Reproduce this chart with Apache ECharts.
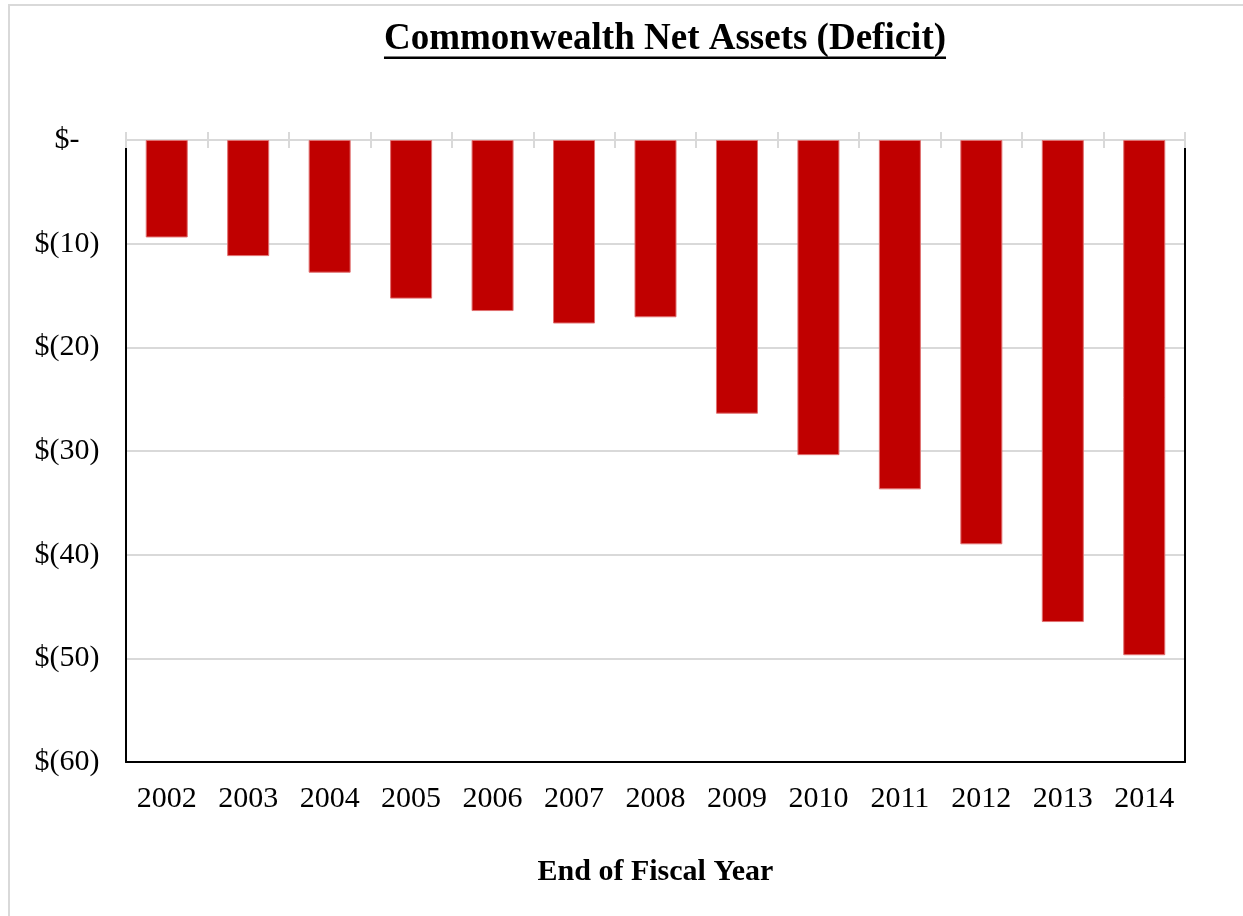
<!DOCTYPE html>
<html>
<head>
<meta charset="utf-8">
<script src="https://cdn.jsdelivr.net/npm/echarts@6/dist/echarts.min.js"></script>
<style>
  html, body { margin: 0; padding: 0; background: #fff; }
  #chart { width: 1243px; height: 916px; }
</style>
</head>
<body>
<div id="chart"></div>
<script>
const titleText = 'Commonwealth Net Assets (Deficit)';
const axisTitle = 'End of Fiscal Year';
const years = ['2002','2003','2004','2005','2006','2007','2008','2009','2010','2011','2012','2013','2014'];
const netAssets = [-9.4, -11.2, -12.8, -15.3, -16.5, -17.7, -17.1, -26.4, -30.4, -33.7, -39.0, -46.5, -49.7];
const yMin = -60, yMax = 0, yStep = 10;

const serif = '"Liberation Serif", "Times New Roman", serif';

function fmtY(v) {
  if (v === 0) return '$-';
  return '$(' + Math.abs(v) + ')';
}

const titleFont = 'bold 37px ' + serif;
const mc = document.createElement('canvas').getContext('2d');
mc.font = titleFont;
const titleW = mc.measureText(titleText).width;
const titleCX = 665;

const chart = echarts.init(document.getElementById('chart'), null, { renderer: 'canvas' });
const gridLine = '#d9d9d9';

chart.setOption({
  animation: false,
  backgroundColor: '#ffffff',
  grid: { left: 126, right: 58, top: 140, bottom: 154, containLabel: false },
  xAxis: [
    {
      type: 'category', data: years, position: 'top', boundaryGap: true,
      axisLine: { show: true, onZero: false, lineStyle: { color: gridLine, width: 2 } },
      axisTick: { show: true, inside: false, length: 8, lineStyle: { color: gridLine, width: 2 } },
      axisLabel: { show: false }, splitLine: { show: false }
    },
    {
      type: 'category', data: years, position: 'top', boundaryGap: true,
      axisLine: { show: false, onZero: false },
      axisTick: { show: true, inside: true, length: 8, lineStyle: { color: gridLine, width: 2 } },
      axisLabel: { show: false }, splitLine: { show: false }
    },
    {
      type: 'category', data: years, position: 'bottom', boundaryGap: true,
      axisLine: { show: true, onZero: false, lineStyle: { color: '#000', width: 2 } },
      axisTick: { show: false },
      axisLabel: { show: true, color: '#000', fontSize: 30, fontFamily: serif, margin: 22, interval: 0 },
      splitLine: { show: false },
      name: axisTitle, nameLocation: 'middle', nameGap: 95,
      nameTextStyle: { color: '#000', fontSize: 30, fontWeight: 'bold', fontFamily: serif }
    }
  ],
  yAxis: [
    {
      type: 'value', position: 'left', min: yMin, max: yMax, interval: yStep,
      axisLine: { show: true, onZero: false, lineStyle: { color: '#000', width: 2 } },
      axisTick: { show: false },
      axisLabel: { formatter: fmtY, color: '#000', fontSize: 30, fontFamily: serif, align: 'center', margin: 59 },
      splitLine: { show: true, lineStyle: { color: gridLine, width: 2 } }
    },
    {
      type: 'value', position: 'right', min: yMin, max: yMax, interval: yStep,
      axisLine: { show: true, onZero: false, lineStyle: { color: '#000', width: 2 } },
      axisTick: { show: false }, axisLabel: { show: false }, splitLine: { show: false }
    }
  ],
  series: [
    {
      type: 'bar', data: netAssets, xAxisIndex: 2, yAxisIndex: 0,
      barWidth: 42,
      itemStyle: { color: '#C00000', borderColor: '#e07070', borderWidth: 1 },
      z: 3
    }
  ],
  graphic: [
    {
      type: 'polyline', silent: true,
      shape: { points: [[9, 916], [9, 5], [1243, 5]] },
      style: { stroke: '#d9d9d9', lineWidth: 2, fill: null }
    },
    {
      type: 'text', silent: true, x: titleCX, y: 39,
      style: { text: titleText, font: titleFont, fill: '#000', align: 'center', verticalAlign: 'middle' }
    },
    {
      type: 'rect', silent: true,
      shape: { x: titleCX - titleW / 2, y: 56.5, width: titleW, height: 2.5 },
      style: { fill: '#000' }
    }
  ]
});
</script>
</body>
</html>
